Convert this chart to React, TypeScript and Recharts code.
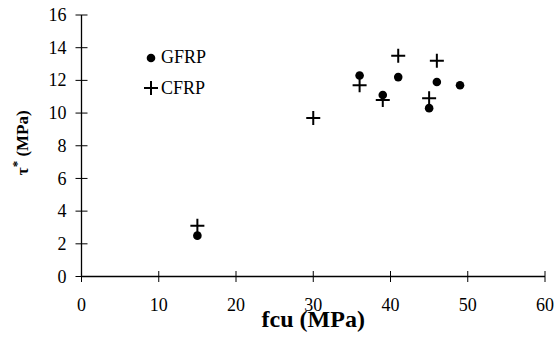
import React from 'react';
import { ScatterChart, Scatter, XAxis, YAxis, Legend } from 'recharts';

// fcu (MPa) vs tau* (MPa)
const fcuGfrp = [15, 36, 39, 41, 45, 46, 49];
const tauGfrp = [2.5, 12.3, 11.1, 12.2, 10.3, 11.9, 11.7];
const fcuCfrp = [15, 30, 36, 39, 41, 45, 46];
const tauCfrp = [3.1, 9.7, 11.7, 10.8, 13.5, 10.9, 13.2];
const xTicks = [0, 10, 20, 30, 40, 50, 60];
const yTicks = [0, 2, 4, 6, 8, 10, 12, 14, 16];
const seriesOrder = ['GFRP', 'CFRP'];

const gfrpData = fcuGfrp.map((x, i) => ({ x, y: tauGfrp[i] }));
const cfrpData = fcuCfrp.map((x, i) => ({ x, y: tauCfrp[i] }));

const font = "'Liberation Serif', 'Times New Roman', serif";
const TICK_SIZE = 6;
const TICK_MARGIN = 2;

const Dot = (props: any) => <circle cx={props.cx} cy={props.cy} r={4.3} fill="#000" />;

const Cross = (props: any) => {
    const { cx, cy } = props;
    return <path d={`M${cx - 7},${cy}H${cx + 7}M${cx},${cy - 7}V${cy + 7}`} stroke="#000" strokeWidth={2} fill="none" />;
};

const XTick = (props: any) => {
    const { x, y, payload } = props;
    const axisY = y - TICK_SIZE - TICK_MARGIN;
    return (
        <g>
            <line x1={x} x2={x} y1={axisY - 5.5} y2={axisY + 5.5} stroke="#000" />
            <text x={x} y={axisY + 34.5} textAnchor="middle" style={{ fontFamily: font }} fontSize={18} fill="#000">
                {payload.value}
            </text>
        </g>
    );
};

const YTick = (props: any) => {
    const { x, y, payload } = props;
    const axisX = x + TICK_SIZE + TICK_MARGIN;
    return (
        <g>
            <line x1={axisX - 6} x2={axisX + 6} y1={y} y2={y} stroke="#000" />
            <text x={axisX - 15} y={y} dy="0.34em" textAnchor="end" style={{ fontFamily: font }} fontSize={18} fill="#000">
                {payload.value}
            </text>
        </g>
    );
};

const YTitle = (props: any) => {
    const vb = props.viewBox;
    const cx = 22;
    const cy = vb.y + vb.height / 2 - 3;
    return (
        <text x={cx} y={cy} transform={`rotate(-90 ${cx} ${cy})`} textAnchor="middle" dominantBaseline="central"
            style={{ fontFamily: font }} fontSize={17} fontWeight="bold" fill="#000">
            <tspan>τ</tspan>
            <tspan fontSize={13} dy={-6}>*</tspan>
            <tspan dy={6}> (MPa)</tspan>
        </text>
    );
};

const XTitle = (props: any) => {
    const vb = props.viewBox;
    return (
        <text x={vb.x + vb.width / 2} y={vb.y + 50.5} textAnchor="middle" style={{ fontFamily: font }} fontSize={24}
            fontWeight="bold" fill="#000">
            fcu (MPa)
        </text>
    );
};

const LegendContent = (props: any) => {
    const items = [...(props.payload || [])].sort(
        (a: any, b: any) => seriesOrder.indexOf(a.value) - seriesOrder.indexOf(b.value));
    return (
        <div style={{ fontFamily: font, fontSize: 18, color: '#000' }}>
            {items.map((it: any) => (
                <div key={it.value} style={{ height: 30.6, display: 'flex', alignItems: 'center' }}>
                    <svg width={16} height={16}>
                        {it.value === 'GFRP'
                            ? <circle cx={8} cy={8} r={4.3} fill="#000" />
                            : <path d="M1,8H15M8,1V15" stroke="#000" strokeWidth={2} />}
                    </svg>
                    <span style={{ marginLeft: 2 }}>{it.value}</span>
                </div>
            ))}
        </div>
    );
};

export default function App() {
    return (
        <div style={{ position: 'absolute', left: 0, top: 0, width: 558, height: 343, background: '#fff', fontFamily: font }}>
            <ScatterChart width={558} height={343} margin={{ top: 15, right: 13, bottom: 26.5, left: 0 }}>
                <XAxis type="number" dataKey="x" domain={[0, 60]} ticks={xTicks} interval={0}
                    axisLine={{ stroke: '#000', strokeWidth: 1.3 }} tickLine={false}
                    tickSize={TICK_SIZE} tickMargin={TICK_MARGIN} tick={<XTick />} height={40}
                    label={{ content: XTitle }} />
                <YAxis type="number" dataKey="y" domain={[0, 16]} ticks={yTicks} interval={0}
                    axisLine={{ stroke: '#000', strokeWidth: 1.3 }} tickLine={false}
                    tickSize={TICK_SIZE} tickMargin={TICK_MARGIN} tick={<YTick />} width={81.5}
                    label={{ content: YTitle }} />
                <Legend layout="vertical" verticalAlign="middle" align="center" content={LegendContent}
                    wrapperStyle={{ left: 143, top: 42.4, width: 'auto' }} />
                <Scatter name="GFRP" data={gfrpData} shape={Dot} isAnimationActive={false} />
                <Scatter name="CFRP" data={cfrpData} shape={Cross} isAnimationActive={false} />
            </ScatterChart>
        </div>
    );
}
